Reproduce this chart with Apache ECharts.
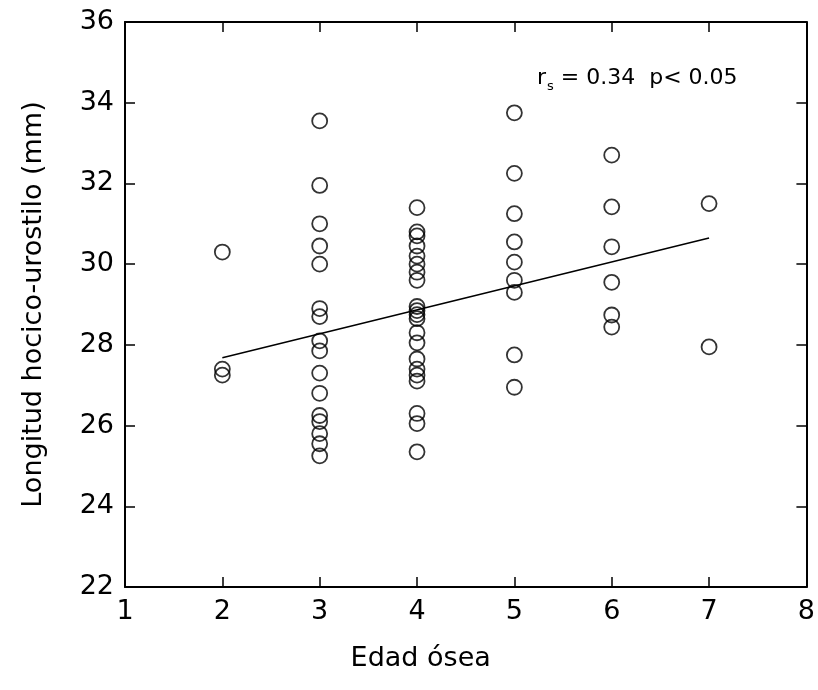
<!DOCTYPE html>
<html>
<head>
<meta charset="utf-8">
<script src="https://cdn.jsdelivr.net/npm/echarts@6/dist/echarts.min.js"></script>
<style>
  html, body { margin: 0; padding: 0; background: #fff; }
  #chart { width: 818px; height: 690px; }
</style>
</head>
<body>
<div id="chart"></div>
<script>
// Snout–urostyle length (mm) measured for each bone age
const edades = [2, 3, 4, 5, 6, 7];
const longitud2 = [30.3, 27.4, 27.25];
const longitud3 = [33.55, 31.95, 31.0, 30.45, 30.0, 28.9, 28.7, 28.1, 27.85, 27.3, 26.8, 26.25, 26.1, 25.8, 25.55, 25.25];
const longitud4 = [31.4, 30.8, 30.7, 30.45, 30.2, 30.0, 29.8, 29.6, 28.95, 28.85, 28.75, 28.65, 28.3, 28.05, 27.65, 27.4, 27.25, 27.1, 26.3, 26.05, 25.35];
const longitud5 = [33.75, 32.25, 31.25, 30.55, 30.05, 29.6, 29.3, 27.75, 26.95];
const longitud6 = [32.7, 31.42, 30.43, 29.55, 28.74, 28.44];
const longitud7 = [31.5, 27.95];

// Fitted line end points
const rectaX = [2, 7];
const rectaY = [27.68, 30.65];

// Axis ranges
const xMin = 1, xMax = 8, xStep = 1;
const yMin = 22, yMax = 36, yStep = 2;

const grupos = [longitud2, longitud3, longitud4, longitud5, longitud6, longitud7];
const puntos = [];
grupos.forEach((g, i) => g.forEach(v => puntos.push([edades[i], v])));

const FONT = 'DejaVu Sans';
const chart = echarts.init(document.getElementById('chart'), null, { renderer: 'canvas' });

const axisLine = { show: true, lineStyle: { color: '#000', width: 2 } };
const tick = { show: true, inside: true, length: 10, lineStyle: { color: '#000', width: 1.5 } };

chart.setOption({
  animation: false,
  backgroundColor: '#fff',
  grid: { left: 125, right: 10, top: 22, bottom: 103, containLabel: false },
  title: {
    text: '{r|r}{s|s}{t| = 0.34  p< 0.05}',
    left: 532, top: 58,
    textStyle: {
      fontWeight: 'normal', fontSize: 22, fontFamily: FONT,
      rich: {
        r: { fontFamily: FONT, fontSize: 22, fontWeight: 'normal', color: '#000' },
        s: { fontFamily: FONT, fontSize: 13, fontWeight: 'normal', color: '#000', verticalAlign: 'bottom', padding: [17, 0, 0, 1] },
        t: { fontFamily: FONT, fontSize: 22, fontWeight: 'normal', color: '#000' }
      }
    }
  },
  xAxis: [
    {
      type: 'value', min: xMin, max: xMax, interval: xStep,
      axisLine, axisTick: tick, splitLine: { show: false },
      axisLabel: { color: '#000', fontFamily: FONT, fontSize: 27, margin: 11 },
      name: 'Edad ósea', nameLocation: 'middle', nameGap: 58,
      nameTextStyle: { color: '#000', fontFamily: FONT, fontSize: 27, padding: [0, 90, 0, 0] }
    },
    {
      type: 'value', position: 'top', min: xMin, max: xMax, interval: xStep,
      axisLine, axisTick: tick, axisLabel: { show: false }, splitLine: { show: false }
    }
  ],
  yAxis: [
    {
      type: 'value', min: yMin, max: yMax, interval: yStep,
      axisLine, axisTick: tick, splitLine: { show: false },
      axisLabel: { color: '#000', fontFamily: FONT, fontSize: 27, margin: 11 },
      name: 'Longitud hocico-urostilo (mm)', nameLocation: 'middle', nameGap: 78,
      nameTextStyle: { color: '#000', fontFamily: FONT, fontSize: 27 }
    },
    {
      type: 'value', position: 'right', min: yMin, max: yMax, interval: yStep,
      axisLine, axisTick: tick, axisLabel: { show: false }, splitLine: { show: false }
    }
  ],
  series: [
    {
      type: 'line',
      data: rectaX.map((x, i) => [x, rectaY[i]]),
      symbol: 'none',
      lineStyle: { color: '#000', width: 1.5 },
      z: 2
    },
    {
      type: 'scatter',
      data: puntos,
      symbol: 'circle',
      symbolSize: 15,
      itemStyle: { color: 'rgba(0,0,0,0)', borderColor: '#000', borderWidth: 1.8 },
      z: 3
    }
  ]
});
</script>
</body>
</html>
